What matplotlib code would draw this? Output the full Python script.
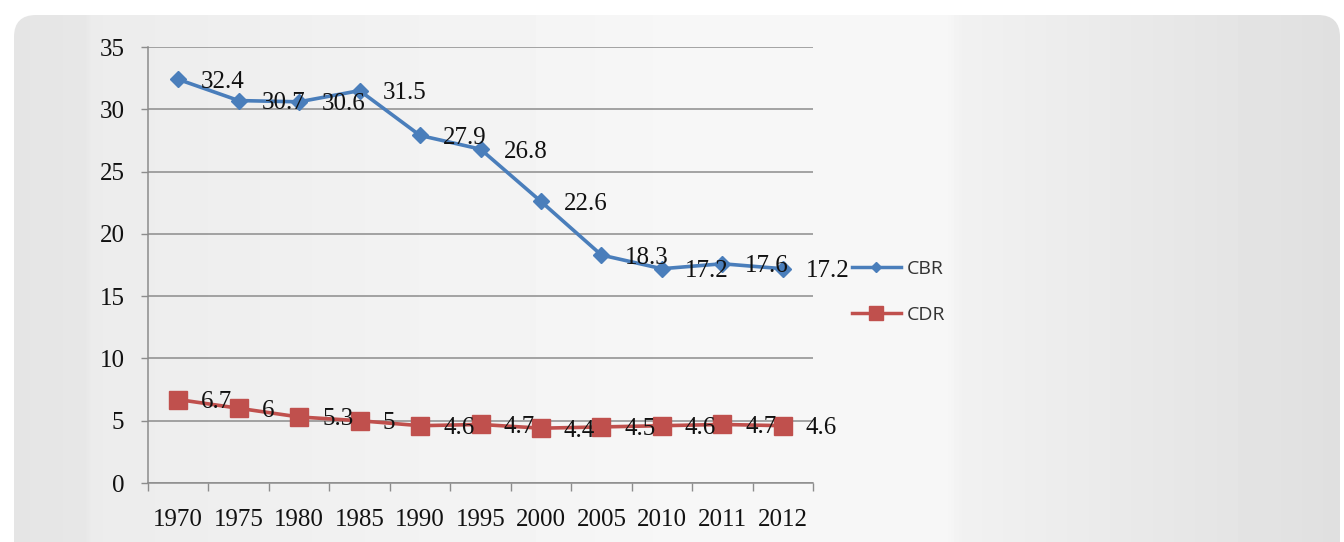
import numpy as np
import matplotlib.pyplot as plt
from matplotlib.patches import FancyBboxPatch
from matplotlib.lines import Line2D

years = ['1970', '1975', '1980', '1985', '1990', '1995', '2000', '2005', '2010', '2011', '2012']
cbr = [32.4, 30.7, 30.6, 31.5, 27.9, 26.8, 22.6, 18.3, 17.2, 17.6, 17.2]
cdr = [6.7, 6, 5.3, 5, 4.6, 4.7, 4.4, 4.5, 4.6, 4.7, 4.6]

W, H = 1344, 542
blue = '#4a7ebb'
red = '#c0504d'
serif = 'Liberation Serif'
ink = '#111111'

fig = plt.figure(figsize=(W / 100, H / 100), dpi=100)
fig.patch.set_facecolor('white')

# rounded grey panel with a soft horizontal shading behind the chart
bg = fig.add_axes([0, 0, 1, 1])
bg.set_xlim(0, W)
bg.set_ylim(H, 0)
bg.axis('off')
sx = [0, 85, 92, 400, 700, 945, 962, 1344]
sv = [0.895, 0.905, 0.925, 0.948, 0.968, 0.968, 0.945, 0.875]
shade = np.interp(np.arange(W), sx, sv)
im = bg.imshow(np.tile(shade, (H, 1)), cmap='gray', vmin=0, vmax=1,
               extent=(0, W, H, 0), aspect='auto', interpolation='bilinear')
panel = FancyBboxPatch((14, 15), 1326, 600, boxstyle='round,pad=0,rounding_size=22',
                       transform=bg.transData, facecolor='none', edgecolor='none')
bg.add_patch(panel)
im.set_clip_path(panel)

ax = fig.add_axes([148 / W, 1 - 483 / H, 665 / W, 436 / H])
ax.patch.set_alpha(0)
x = np.arange(len(years))

ax.plot(x, cbr, color=blue, lw=2.6, marker='D', ms=8.5, mec=blue, mfc=blue, zorder=3)
ax.plot(x, cdr, color=red, lw=2.6, marker='s', ms=13, mec=red, mfc=red, zorder=3)

for series in (cbr, cdr):
    for xi, v in zip(x, series):
        ax.annotate('{:g}'.format(v), (xi, v), xytext=(23, 0), textcoords='offset pixels',
                    ha='left', va='center_baseline', fontsize=18, family=serif,
                    color=ink, zorder=4)

ax.set_xlim(-0.5, len(years) - 0.5)
ax.set_ylim(0, 35)
ax.set_yticks(np.arange(0, 36, 5))
ax.yaxis.grid(True, color='#8c8c8c', lw=1.1)
ax.set_axisbelow(True)

# category boundaries get the tick marks, labels sit in the middle
ax.set_xticks(np.arange(-0.5, len(years), 1))
ax.set_xticklabels([])
ax.set_xticks(x, minor=True)
ax.set_xticklabels(years, minor=True)
ax.tick_params(axis='x', which='major', length=6, width=1, color='#8c8c8c', direction='out')
ax.tick_params(axis='x', which='minor', length=0, pad=19, labelsize=18, labelcolor=ink)
ax.tick_params(axis='y', length=5, width=1, color='#8c8c8c', pad=12, labelsize=18,
               labelcolor=ink)
for lab in ax.get_xticklabels(minor=True) + ax.get_yticklabels():
    lab.set_family(serif)

for s in ['top', 'right']:
    ax.spines[s].set_visible(False)
for s in ['left', 'bottom']:
    ax.spines[s].set_color('#8c8c8c')
    ax.spines[s].set_linewidth(1.1)

handles = [Line2D([], [], color=blue, lw=2.5, marker='D', ms=5, mec=blue, mfc=blue),
           Line2D([], [], color=red, lw=2.5, marker='s', ms=10, mec=red, mfc=red)]
fig.legend(handles, ['CBR', 'CDR'], loc='upper left',
           bbox_to_anchor=(852 / W, 1 - 260 / H), frameon=False,
           prop={'family': 'Open Sans', 'size': 14}, handlelength=2.5,
           handletextpad=0.3, labelspacing=1.45, borderpad=0, borderaxespad=0,
           labelcolor='#333333')

fig.savefig('out.png', dpi=100)
